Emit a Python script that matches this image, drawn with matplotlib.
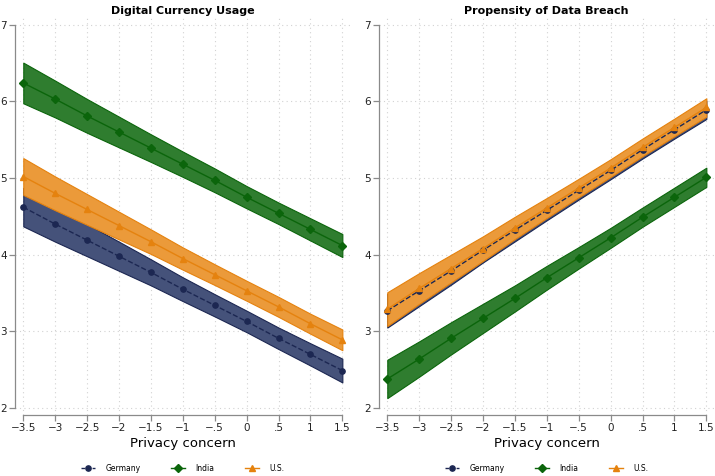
import matplotlib
matplotlib.use("Agg")
import matplotlib.pyplot as plt
from matplotlib.lines import Line2D

# privacy concern levels (x axis)
privacy = [-3.5, -3.0, -2.5, -2.0, -1.5, -1.0, -0.5, 0.0, 0.5, 1.0, 1.5]
tick_labels = ["\u22123.5", "\u22123", "\u22122.5", "\u22122", "\u22121.5", "\u22121",
               "\u2212.5", "0", ".5", "1", "1.5"]
countries = ["Germany", "India", "U.S."]

# Digital Currency Usage - predicted values and CI half widths
usage_germany = [4.62, 4.40, 4.19, 3.98, 3.77, 3.55, 3.34, 3.13, 2.91, 2.70, 2.49]
usage_india = [6.24, 6.03, 5.81, 5.60, 5.39, 5.18, 4.97, 4.75, 4.54, 4.33, 4.12]
usage_us = [5.02, 4.80, 4.59, 4.38, 4.17, 3.95, 3.74, 3.53, 3.32, 3.10, 2.89]
usage_ci_germany = [0.25, 0.23, 0.21, 0.19, 0.17, 0.155, 0.145, 0.14, 0.14, 0.145, 0.155]
usage_ci_india = [0.265, 0.24, 0.22, 0.20, 0.18, 0.165, 0.155, 0.145, 0.14, 0.145, 0.15]
usage_ci_us = [0.24, 0.22, 0.20, 0.18, 0.16, 0.145, 0.135, 0.13, 0.13, 0.13, 0.135]

# Propensity of Data Breach
breach_germany = [3.27, 3.53, 3.79, 4.06, 4.32, 4.58, 4.84, 5.10, 5.37, 5.63, 5.89]
breach_india = [2.38, 2.64, 2.91, 3.17, 3.43, 3.70, 3.96, 4.22, 4.49, 4.75, 5.01]
breach_us = [3.29, 3.56, 3.82, 4.08, 4.35, 4.61, 4.87, 5.13, 5.40, 5.66, 5.92]
breach_ci_germany = [0.22, 0.20, 0.18, 0.16, 0.145, 0.13, 0.12, 0.115, 0.115, 0.115, 0.12]
breach_ci_india = [0.25, 0.23, 0.21, 0.19, 0.17, 0.155, 0.14, 0.13, 0.125, 0.125, 0.125]
breach_ci_us = [0.22, 0.20, 0.18, 0.16, 0.145, 0.13, 0.12, 0.115, 0.115, 0.115, 0.12]

line_colors = ["#1c2752", "#0b650b", "#e5820e"]
band_colors = ["#45527a", "#2f7d2f", "#eb9a3a"]
markers = ["o", "D", "^"]
styles = ["--", "-", "-"]
legend_styles = [(0, (2.5, 1.5)), "-", "-"]
gray = "#8a8a8a"

fig = plt.figure(figsize=(7.15, 4.76), dpi=100)
ax1 = fig.add_axes([15 / 715, 61 / 476, 335 / 715, 398 / 476])
ax2 = fig.add_axes([379 / 715, 61 / 476, 335 / 715, 398 / 476])


def draw_panel(ax, title, means, cis):
    # bands first, then lines on top
    for m, c, bc, lc in zip(means, cis, band_colors, line_colors):
        lo = [a - b for a, b in zip(m, c)]
        hi = [a + b for a, b in zip(m, c)]
        ax.fill_between(privacy, lo, hi, facecolor=bc, edgecolor=lc,
                        linewidth=0.8, zorder=2)
    for m, lc, mk, ls in zip(means, line_colors, markers, styles):
        ms = 4.2 if mk == "^" else 3.8
        ax.plot(privacy, m, color=lc, linestyle=ls, linewidth=1.0,
                marker=mk, markersize=ms, zorder=3)

    ax.set_xlim(-3.63, 1.62)
    ax.set_ylim(1.91, 7.1)
    ax.set_xticks(privacy)
    ax.set_xticklabels(tick_labels)
    ax.set_yticks([2, 3, 4, 5, 6, 7])
    ax.grid(True, color="#d2d2d2", linestyle=(0, (1, 3)), linewidth=0.8)
    ax.set_axisbelow(True)
    for s in ["top", "right"]:
        ax.spines[s].set_visible(False)
    ax.spines["left"].set_bounds(2, 7)
    ax.spines["bottom"].set_bounds(-3.5, 1.5)
    for s in ["left", "bottom"]:
        ax.spines[s].set_color(gray)
        ax.spines[s].set_linewidth(0.9)
    ax.tick_params(colors=gray, labelcolor="#222222", length=4, width=0.9,
                   labelsize=7.5, pad=2)
    ax.set_title(title, fontsize=8, fontweight="bold", pad=2)
    ax.set_xlabel("Privacy concern", fontsize=9.5, labelpad=3)

    handles = []
    for lc, bc, mk, ls in zip(line_colors, band_colors, markers, legend_styles):
        handles.append(Line2D([], [], color=lc, linestyle=ls, linewidth=1.0,
                              marker=mk, markersize=3.8))
    ax.legend(handles, countries, loc="upper center", bbox_to_anchor=(0.5, -0.105),
              ncol=3, frameon=False, fontsize=5.5, handlelength=1.9,
              columnspacing=4.0, handletextpad=1.3)


draw_panel(ax1, "Digital Currency Usage",
           [usage_germany, usage_india, usage_us],
           [usage_ci_germany, usage_ci_india, usage_ci_us])
draw_panel(ax2, "Propensity of Data Breach",
           [breach_germany, breach_india, breach_us],
           [breach_ci_germany, breach_ci_india, breach_ci_us])

fig.savefig("out.png", dpi=100)
